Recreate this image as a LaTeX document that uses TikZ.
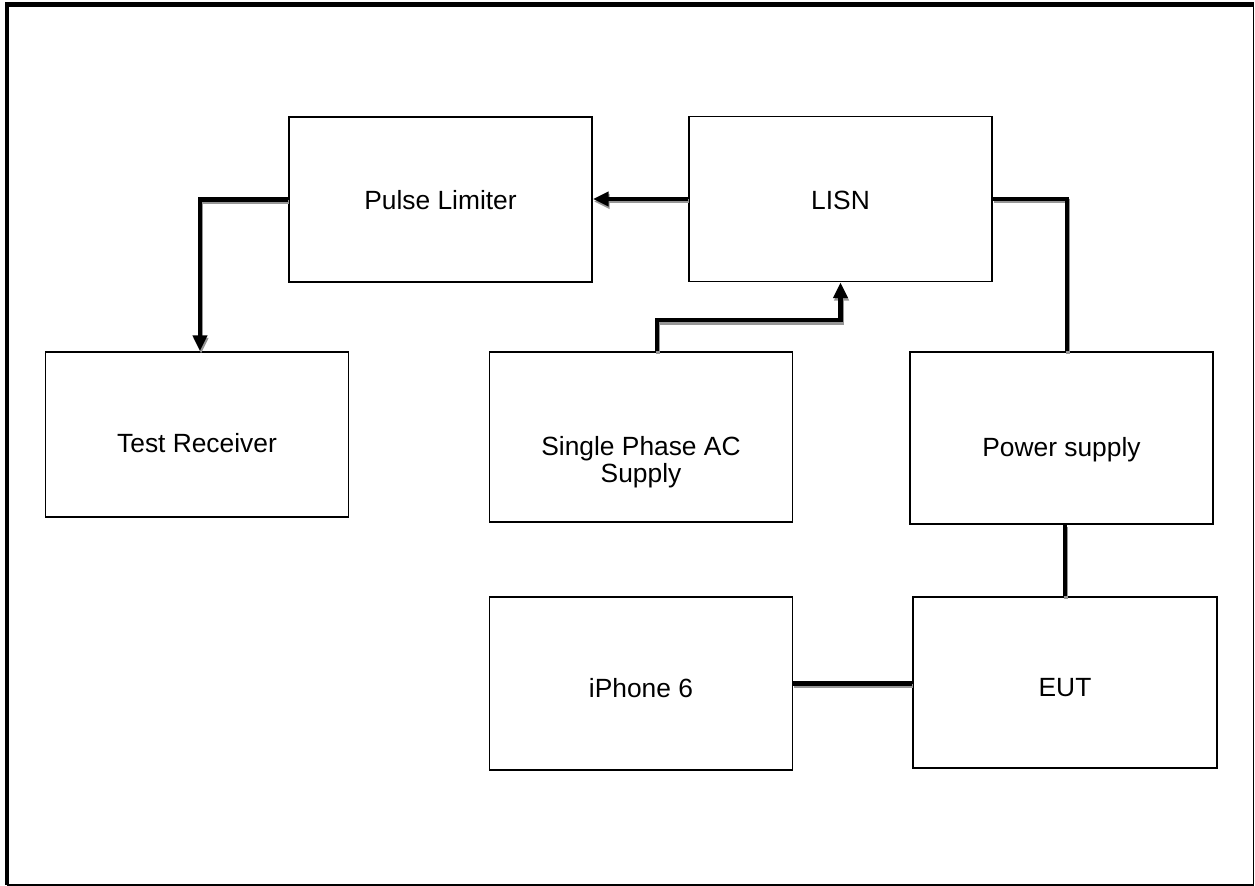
\documentclass[tikz,border=0pt]{standalone}
\usepackage{fontspec}
\setmainfont{Liberation Sans}
\usetikzlibrary{arrows.meta,calc}
\definecolor{WireClr}{rgb}{0,0,0}
\definecolor{ShadowClr}{RGB}{150,150,150}

\begin{document}
\begin{tikzpicture}[x=0.02cm,y=-0.02cm,
  lbl/.style={font=\fontsize{15}{15.2}\selectfont,align=center},
  blk/.style={draw,line width=1pt,minimum width=6.06cm,minimum height=3.3cm,
    lbl,text depth=0pt},
  wire/.style={line width=2.3pt,color=WireClr,
    preaction={draw=ShadowClr,line width=2.3pt,transform canvas={shift={(0.6pt,-1.4pt)}}}},
  tip/.style={-{Triangle[length=9pt,width=8pt]}}]
\useasboundingbox (0,0) rectangle (1255,886);

% frame
\draw[line width=2.3pt] (7,885) -- (7,4.5) -- (1253.5,4.5);
\draw[line width=0.7pt] (1253.5,4.5) -- (1253.5,885) -- (7,885);

\node[blk,text height=11.4pt] (pulse) at (440.5,199.5) {Pulse Limiter};
\node[blk,text height=12pt] (lisn) at (840.5,199) {LISN};
\node[blk,text height=20.4pt] (recv) at (197,434.5) {Test Receiver};
\node[blk,minimum height=3.4cm,
  label={[lbl,name=supplytxt,yshift=-14.2pt]center:{Single Phase AC\\Supply}}]
  (supply) at (641,437) {};
\node[blk,minimum height=3.44cm,text height=21pt] (power) at (1061.5,438) {Power supply};
\node[blk,minimum height=3.46cm,text height=16pt] (phone) at (641,683.5) {iPhone 6};
\node[blk,minimum width=6.08cm,minimum height=3.42cm,text height=16pt] (eut) at (1065,682.5) {EUT};

\draw[wire,tip] (pulse.west) -| ([xshift=0.06cm]recv.north);
\draw[wire,tip] (lisn.west) -- (lisn.west -| pulse.east);
\draw[wire,tip] ([xshift=0.32cm]supply.north) |- ([yshift=-0.76cm]lisn.south) -- (lisn.south);
\draw[wire] (lisn.east) -| ([xshift=0.11cm]power.north);
\draw[wire] (eut.north |- power.south) -- (eut.north);
\draw[wire] (phone.east) -- (phone.east -| eut.west);

\end{tikzpicture}
\end{document}
